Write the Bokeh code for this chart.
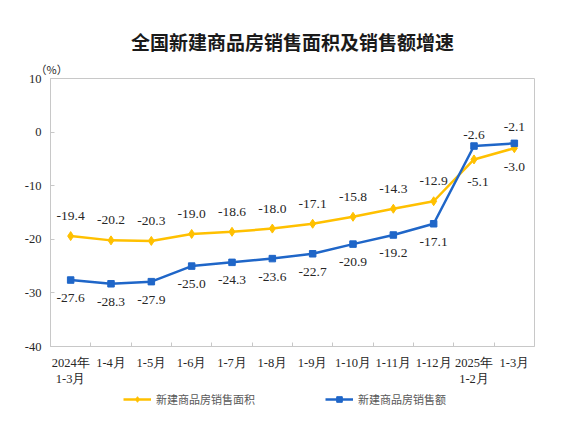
from bokeh.plotting import figure
from bokeh.models import (ColumnDataSource, FixedTicker, Range1d, Title, Legend,
                          LegendItem)
from bokeh.layouts import column
from bokeh.embed import file_html
from bokeh.resources import INLINE

categories = ["2024年\n1-3月", "1-4月", "1-5月", "1-6月", "1-7月", "1-8月",
              "1-9月", "1-10月", "1-11月", "1-12月", "2025年\n1-2月", "1-3月"]
area = [-19.4, -20.2, -20.3, -19.0, -18.6, -18.0, -17.1, -15.8, -14.3, -12.9, -5.1, -3.0]
amount = [-27.6, -28.3, -27.9, -25.0, -24.3, -23.6, -22.7, -20.9, -19.2, -17.1, -2.6, -2.1]
y_ticks = [-40, -30, -20, -10, 0, 10]

area_name = "新建商品房销售面积"
amount_name = "新建商品房销售额"
title_text = "全国新建商品房销售面积及销售额增速"
unit_text = "（%）"

# label offsets (screen px, +down)
area_off = [-20] * 10 + [23, 19]
amount_off = [18] * 10 + [-11, -16]
area_xoff = [0] * 10 + [4, 0]

YEL = "#FFC000"
BLU = "#1F66C8"
GRID = "#C8C8C8"
TXT = "#262626"
SERIF = "Liberation Serif"
CJK = "Noto Sans CJK SC"

n = len(categories)
xs = [i + 0.5 for i in range(n)]

src = ColumnDataSource(dict(
    x=xs, area=area, amount=amount,
    area_lbl=[f"{v:.1f}" for v in area],
    amount_lbl=[f"{v:.1f}" for v in amount],
    area_off=area_off, amount_off=amount_off, area_xoff=area_xoff,
))

W = 578
p = figure(width=W, height=389, output_backend="svg", toolbar_location=None,
           x_range=Range1d(0, n), y_range=Range1d(-40, 10),
           min_border_left=50, min_border_right=44, min_border_top=78,
           min_border_bottom=42, title=None)
p.background_fill_color = "white"
p.border_fill_color = "white"
p.outline_line_color = GRID
p.outline_line_width = 1
p.grid.visible = False

# x axis
xa = p.xaxis[0]
xa.ticker = FixedTicker(ticks=xs, minor_ticks=list(range(1, n)))
xa.major_label_overrides = {x: c for x, c in zip(xs, categories)}
xa.major_tick_in = 0
xa.major_tick_out = 0
xa.minor_tick_in = 4
xa.minor_tick_out = 0
xa.minor_tick_line_color = GRID
xa.axis_line_color = GRID
xa.major_label_text_font = SERIF
xa.major_label_text_font_size = "12.5px"
xa.major_label_text_color = TXT
xa.major_label_standoff = 9

# y axis
ya = p.yaxis[0]
ya.ticker = FixedTicker(ticks=y_ticks)
ya.major_label_overrides = {t: str(t) for t in y_ticks}
ya.major_tick_in = 4
ya.major_tick_out = 0
ya.minor_tick_line_color = None
ya.major_tick_line_color = GRID
ya.axis_line_color = GRID
ya.major_label_text_font = SERIF
ya.major_label_text_font_size = "12.5px"
ya.major_label_text_color = TXT
ya.major_label_standoff = 9

# series
l1 = p.line("x", "area", source=src, line_color=YEL, line_width=2.5)
s1 = p.scatter("x", "area", source=src, marker="diamond", size=9,
               fill_color=YEL, line_color=YEL)
l2 = p.line("x", "amount", source=src, line_color=BLU, line_width=2.5)
s2 = p.scatter("x", "amount", source=src, marker="square", size=6.5,
               fill_color=BLU, line_color=BLU)

p.text("x", "area", text="area_lbl", source=src, y_offset="area_off",
       x_offset="area_xoff",
       text_align="center", text_baseline="middle", text_font={"value": SERIF},
       text_font_size="13.5px", text_color=TXT)
p.text("x", "amount", text="amount_lbl", source=src, y_offset="amount_off",
       text_align="center", text_baseline="middle", text_font={"value": SERIF},
       text_font_size="13.5px", text_color=TXT)

# unit (closest to frame) and title
p.add_layout(Title(text=unit_text, align="left", offset=-15, standoff=4,
                   text_font=CJK, text_font_size="11px",
                   text_font_style="normal", text_color=TXT), "above")
p.add_layout(Title(text=title_text, align="center", standoff=4,
                   text_font=CJK, text_font_size="19px",
                   text_font_style="bold", text_color="#1a1a1a"), "above")

# legend in a separate strip below (its frame lines up with the main frame)
lf = figure(width=W, height=37, output_backend="svg", toolbar_location=None,
            x_range=Range1d(0, 1), y_range=Range1d(0, 1),
            x_axis_location=None, y_axis_location=None,
            min_border_left=50, min_border_right=44, min_border_top=0,
            min_border_bottom=0)
lf.outline_line_color = None
lf.grid.visible = False
hidden = dict(x=[-5], y=[-5])
ll1 = lf.line("x", "y", source=ColumnDataSource(hidden), line_color=YEL, line_width=2.5)
ls1 = lf.scatter("x", "y", source=ColumnDataSource(hidden), marker="diamond", size=9,
                 fill_color=YEL, line_color=YEL)
ll2 = lf.line("x", "y", source=ColumnDataSource(hidden), line_color=BLU, line_width=2.5)
ls2 = lf.scatter("x", "y", source=ColumnDataSource(hidden), marker="square", size=6.5,
                 fill_color=BLU, line_color=BLU)
legend = Legend(items=[LegendItem(label=area_name, renderers=[ll1, ls1]),
                       LegendItem(label=amount_name, renderers=[ll2, ls2])],
                orientation="horizontal", location=(73, 19),
                label_text_font=CJK, label_text_font_size="11px",
                label_text_color="#595959", glyph_width=28, glyph_height=14,
                padding=0, margin=0, spacing=70, label_standoff=5,
                border_line_color=None, background_fill_alpha=0)
lf.add_layout(legend)

open("out.html", "w").write(file_html(column(p, lf, spacing=0), INLINE))
